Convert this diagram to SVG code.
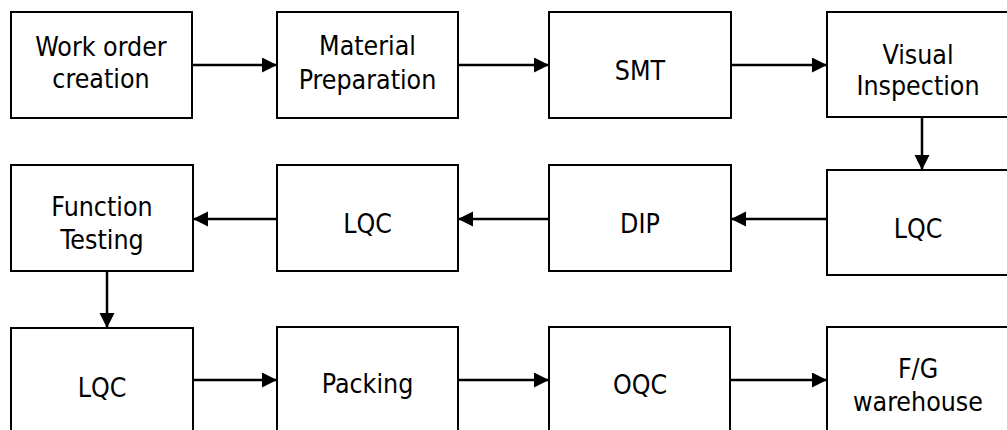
<svg xmlns="http://www.w3.org/2000/svg" width="1007" height="430" viewBox="0 0 1007 430">
<style>
.box{fill:#fff;stroke:#000;stroke-width:2}
.lbl{font-family:"DejaVu Sans Condensed","DejaVu Sans",sans-serif;font-stretch:condensed;font-size:26.5px;fill:#000;text-anchor:middle}
.conn{stroke:#000;stroke-width:2.5;fill:none;marker-end:url(#ah)}
</style>
<defs>
<marker id="ah" markerUnits="userSpaceOnUse" markerWidth="16" markerHeight="16" refX="15" refY="7.5" orient="auto" viewBox="0 0 16 16">
<path d="M0,0 L15,7.5 L0,15 z" fill="#000"/>
</marker>
</defs>
<rect width="1007" height="430" fill="#fff"/>
<g id="n1"><rect class="box" x="11" y="12" width="181" height="106"/><text class="lbl" x="101" y="56">Work order</text><text class="lbl" x="101" y="88">creation</text></g>
<g id="n2"><rect class="box" x="277" y="12" width="181" height="106"/><text class="lbl" x="367.5" y="55">Material</text><text class="lbl" x="367.5" y="89">Preparation</text></g>
<g id="n3"><rect class="box" x="549" y="12" width="182" height="106"/><text class="lbl" x="640" y="80">SMT</text></g>
<g id="n4"><rect class="box" x="827" y="12" width="182" height="105"/><text class="lbl" x="918" y="64">Visual</text><text class="lbl" x="918" y="95">Inspection</text></g>
<g id="n5"><rect class="box" x="827" y="170" width="182" height="105"/><text class="lbl" x="918" y="238">LQC</text></g>
<g id="n6"><rect class="box" x="549" y="165" width="182" height="106"/><text class="lbl" x="640" y="233">DIP</text></g>
<g id="n7"><rect class="box" x="277" y="165" width="181" height="106"/><text class="lbl" x="367.5" y="233">LQC</text></g>
<g id="n8"><rect class="box" x="11" y="165" width="182" height="106"/><text class="lbl" x="102" y="216">Function</text><text class="lbl" x="102" y="249">Testing</text></g>
<g id="n9"><rect class="box" x="11" y="328" width="182" height="110"/><text class="lbl" x="102" y="397">LQC</text></g>
<g id="n10"><rect class="box" x="277" y="327" width="181" height="110"/><text class="lbl" x="367.5" y="393">Packing</text></g>
<g id="n11"><rect class="box" x="549" y="327" width="181" height="110"/><text class="lbl" x="640" y="394">OQC</text></g>
<g id="n12"><rect class="box" x="827" y="327" width="182" height="110"/><text class="lbl" x="918" y="378">F/G</text><text class="lbl" x="918" y="411">warehouse</text></g>
<g id="connectors">
<line class="conn" x1="192" y1="65" x2="277" y2="65"/>
<line class="conn" x1="458" y1="65" x2="549" y2="65"/>
<line class="conn" x1="731" y1="65" x2="827" y2="65"/>
<line class="conn" x1="922" y1="117" x2="922" y2="170"/>
<line class="conn" x1="827" y1="219" x2="731" y2="219"/>
<line class="conn" x1="549" y1="219" x2="458" y2="219"/>
<line class="conn" x1="277" y1="219" x2="193" y2="219"/>
<line class="conn" x1="107" y1="271" x2="107" y2="328"/>
<line class="conn" x1="193" y1="380" x2="277" y2="380"/>
<line class="conn" x1="458" y1="380" x2="549" y2="380"/>
<line class="conn" x1="730" y1="380" x2="827" y2="380"/>
</g>
</svg>
